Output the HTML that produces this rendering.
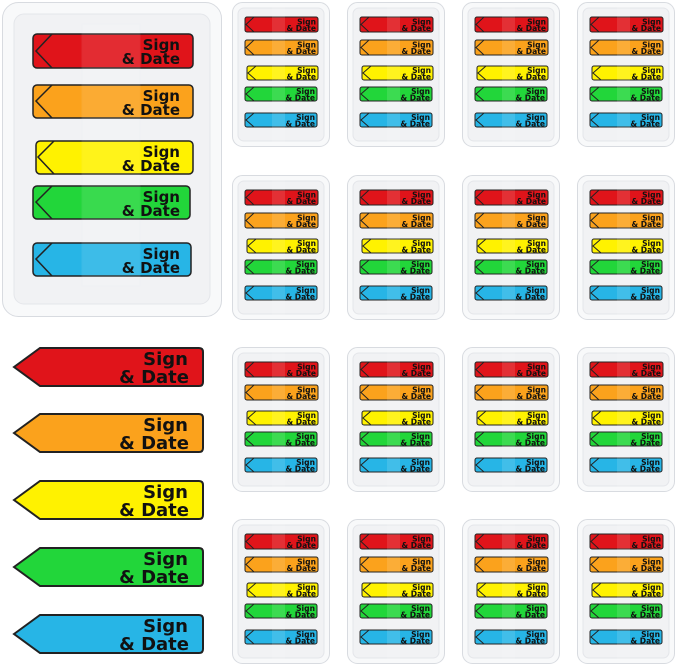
<!DOCTYPE html>
<html><head><meta charset="utf-8"><style>
html,body{margin:0;padding:0;background:#fff}
svg{display:block}
text{font-family:"DejaVu Sans","Liberation Sans",sans-serif;font-weight:bold;fill:#111;text-anchor:end}
</style></head><body>
<svg width="679" height="666" viewBox="0 0 679 666" xmlns="http://www.w3.org/2000/svg">
<defs>
<g id="sd">
<rect x="0.5" y="0.5" width="97" height="144" rx="10" fill="#f8f9fa" stroke="#d8dbe0"/>
<rect x="6" y="6" width="86" height="133" rx="6" fill="#f1f2f4" stroke="#e4e6ea"/>
<g stroke="#222" stroke-width="1">
<rect x="13" y="15" width="73" height="15" rx="2" fill="#e0141a"/>
<rect x="13" y="38" width="73" height="15" rx="2" fill="#fba21c"/>
<rect x="15" y="64" width="71" height="14" rx="2" fill="#fff200"/>
<rect x="13" y="85" width="72" height="14" rx="2" fill="#22d63a"/>
<rect x="13" y="111" width="72" height="14" rx="2" fill="#27b5e6"/>
<path d="M22 15L14 22.5L22 30M22 38L14 45.5L22 53M24 64L16 71L24 78M22 85L14 92L22 99M22 111L14 118L22 125" fill="none"/>
</g>
<rect x="40" y="4" width="13" height="137" fill="#fff" opacity="0.12"/>
<g font-size="7.6">
<text x="84" y="22.3">Sign</text><text x="84" y="29">&amp; Date</text>
<text x="84" y="45.3">Sign</text><text x="84" y="52">&amp; Date</text>
<text x="84" y="71">Sign</text><text x="84" y="77.5">&amp; Date</text>
<text x="83" y="92">Sign</text><text x="83" y="98.5">&amp; Date</text>
<text x="83" y="118">Sign</text><text x="83" y="124.5">&amp; Date</text>
</g>
</g>
<path id="ar" d="M14 367L40 348H199Q203 348 203 352V382Q203 386 199 386H40Z" stroke="#222" stroke-width="2"/>
</defs>

<rect x="2.5" y="2.5" width="219" height="314" rx="16" fill="#f8f9fa" stroke="#d8dbe0"/>
<rect x="14" y="14" width="196" height="290" rx="10" fill="#f1f2f4" stroke="#e4e6ea"/>
<g stroke="#222" stroke-width="1.5">
<rect x="33" y="34" width="160" height="34" rx="4" fill="#e0141a"/>
<rect x="33" y="85" width="160" height="33" rx="4" fill="#fba21c"/>
<rect x="36" y="141" width="157" height="33" rx="4" fill="#fff200"/>
<rect x="33" y="186" width="157" height="33" rx="4" fill="#22d63a"/>
<rect x="33" y="243" width="158" height="33" rx="4" fill="#27b5e6"/>
<path d="M52 34L36 51L52 68M52 85L36 101L52 118M54 141L38 157L54 174M52 186L36 202L52 219M52 243L36 259L52 276" fill="none"/>
</g>
<rect x="82" y="24" width="58" height="262" fill="#fff" opacity="0.1" stroke="#e6e8ec"/>
<g font-size="15">
<text x="180" y="50">Sign</text><text x="180" y="64">&amp; Date</text>
<text x="180" y="101">Sign</text><text x="180" y="115">&amp; Date</text>
<text x="180" y="157">Sign</text><text x="180" y="171">&amp; Date</text>
<text x="180" y="202">Sign</text><text x="180" y="216">&amp; Date</text>
<text x="180" y="259">Sign</text><text x="180" y="273">&amp; Date</text>
</g>

<use href="#sd" x="232" y="2"/><use href="#sd" x="347" y="2"/><use href="#sd" x="462" y="2"/><use href="#sd" x="577" y="2"/>
<use href="#sd" x="232" y="175"/><use href="#sd" x="347" y="175"/><use href="#sd" x="462" y="175"/><use href="#sd" x="577" y="175"/>
<use href="#sd" x="232" y="347"/><use href="#sd" x="347" y="347"/><use href="#sd" x="462" y="347"/><use href="#sd" x="577" y="347"/>
<use href="#sd" x="232" y="519"/><use href="#sd" x="347" y="519"/><use href="#sd" x="462" y="519"/><use href="#sd" x="577" y="519"/>

<use href="#ar" fill="#e0141a"/>
<use href="#ar" y="66" fill="#fba21c"/>
<use href="#ar" y="133" fill="#fff200"/>
<use href="#ar" y="200" fill="#22d63a"/>
<use href="#ar" y="267" fill="#27b5e6"/>
<g font-size="18">
<text x="188" y="365">Sign</text><text x="189" y="383">&amp; Date</text>
<text x="188" y="431">Sign</text><text x="189" y="449">&amp; Date</text>
<text x="188" y="498">Sign</text><text x="189" y="516">&amp; Date</text>
<text x="188" y="565">Sign</text><text x="189" y="583">&amp; Date</text>
<text x="188" y="632">Sign</text><text x="189" y="650">&amp; Date</text>
</g>
</svg>
</body></html>
